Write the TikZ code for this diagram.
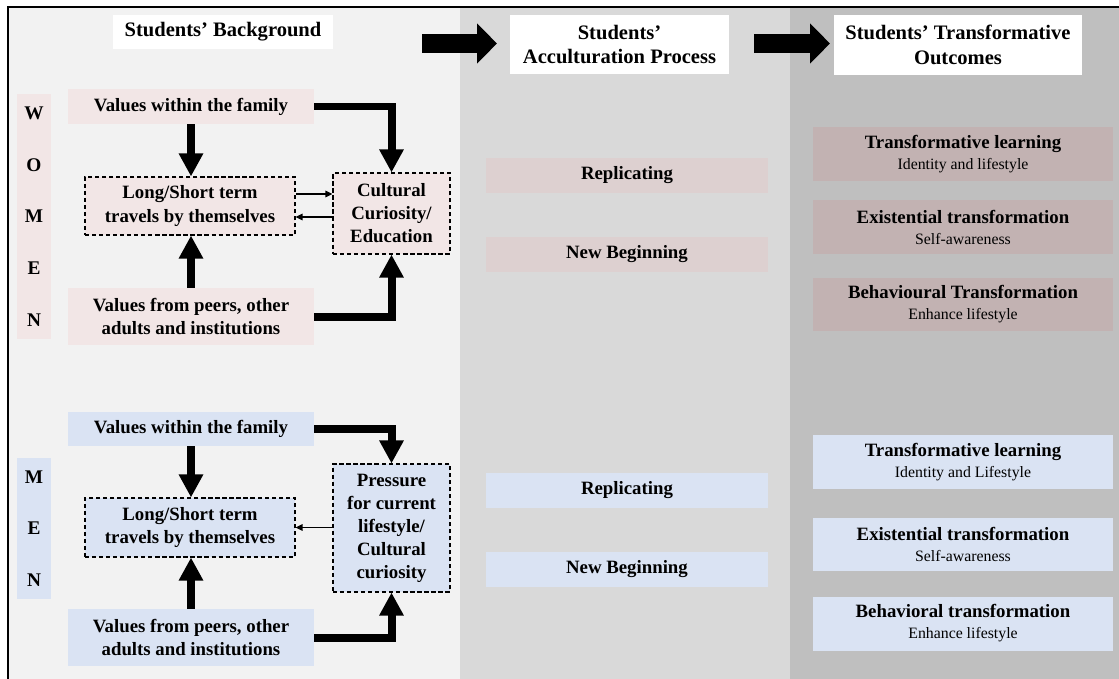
\documentclass[tikz,border=0pt]{standalone}
\usepackage{fontspec}
\setmainfont{Liberation Serif}
\usetikzlibrary{positioning,calc,arrows.meta}

\definecolor{bgleft}{HTML}{F2F2F2}
\definecolor{bgmid}{HTML}{D9D9D9}
\definecolor{bgright}{HTML}{BFBFBF}
\definecolor{womenL}{HTML}{F2E6E6}
\definecolor{womenM}{HTML}{DDD0D0}
\definecolor{womenR}{HTML}{C2B2B2}
\definecolor{menbox}{HTML}{DAE3F3}

\newcommand{\outsub}[1]{{\mdseries\fontsize{9}{12}\selectfont #1}}

\begin{document}
\begin{tikzpicture}[x=0.02cm, y=-0.02cm, line join=miter, >=Triangle,
	box/.style={inner sep=0pt, align=center, font=\bfseries\fontsize{10.7}{13.1}\selectfont},
	headbox/.style={box, fill=white, font=\bfseries\fontsize{11.7}{14.2}\selectfont},
	dashbox/.style={box, draw, dash pattern=on 2.4pt off 1.6pt, line width=0.6pt},
	letterbox/.style={box, minimum width=0.68cm, font=\bfseries\fontsize{11}{29.4}\selectfont},
	srcbox/.style={box, minimum width=4.92cm},
	procbox/.style={box, minimum width=5.64cm, minimum height=0.7cm},
	outbox/.style={box, minimum width=6cm, minimum height=1.08cm, font=\bfseries\fontsize{10.7}{12}\selectfont},
	bigarrow/.style={line width=0.16cm, -{Triangle[width=0.46cm,length=0.46cm]}},
	thinarrow/.style={line width=0.6pt, -{Triangle[width=0.13cm,length=0.14cm]}},
	steparrow/.style={line width=0.4cm, -{Triangle[width=0.78cm,length=0.4cm]}}]
		\useasboundingbox (0,0) rectangle (1119,679);
		% background panels
		\fill [bgleft] (8,7) rectangle (460,679);
		\fill [bgmid] (460,7) rectangle (790,679);
		\fill [bgright] (790,7) rectangle (1119,679);
		\draw [line width=1.1pt] (8,679) -- (8,7) -- (1119,7);
		% headers
		\node[headbox, minimum width=4.4cm, minimum height=0.68cm] (hback) at (223,32) {Students’ Background};
		\node[headbox, minimum width=4.38cm, minimum height=1.18cm] (hproc) at (619.5,44.5) {Students’\\Acculturation Process};
		\node[headbox, minimum width=4.96cm, minimum height=1.2cm] (hout) at (958,45) {Students’ Transformative\\Outcomes};
		\coordinate (a1) at (422,43.5);
		\coordinate (a2) at (497,43.5);
		\coordinate (a3) at (754,43.5);
		\coordinate (a4) at (830,43.5);
		\draw [steparrow] (a1) -- (a2);
		\draw [steparrow] (a3) -- (a4);
		% women
		\node[letterbox, fill=womenL, minimum height=4.9cm] (wlet) at (34,216.5) {W\\O\\M\\E\\N};
		\node[srcbox, fill=womenL, minimum height=0.7cm] (wfam) at (191,106.5) {Values within the family};
		\node[dashbox, fill=womenL, minimum width=4.2cm, minimum height=1.16cm] (wlong) at (190,206) {Long/Short term\\travels by themselves};
		\node[dashbox, fill=womenL, minimum width=2.34cm, minimum height=1.62cm] (wcult) at (391.5,213.5) {Cultural\\Curiosity/\\Education};
		\node[srcbox, fill=womenL, minimum height=1.14cm] (wpeer) at (191,316.5) {Values from peers, other\\adults and institutions};
		\draw [bigarrow] (wfam.south) -- (wfam.south |- wlong.north);
		\draw [bigarrow] (wfam.east) -| (wcult.north);
		\draw [bigarrow] (wpeer.north) -- (wpeer.north |- wlong.south);
		\draw [bigarrow] (wpeer.east) -| (wcult.south);
		\draw [thinarrow] ($(wlong.east)+(0,-12)$) -- ($(wcult.west |- wlong.east)+(0,-12)$);
		\draw [thinarrow] ($(wcult.west |- wlong.east)+(0,11)$) -- ($(wlong.east)+(0,11)$);
		\node[procbox, fill=womenM] (wrep) at (627,175.5) {Replicating};
		\node[procbox, fill=womenM] (wnew) at (627,254.5) {New Beginning};
		\node[outbox, fill=womenR] (wlearn) at (963,154) {Transformative learning\\\outsub{Identity and lifestyle}};
		\node[outbox, fill=womenR] (wexist) at (963,227) {Existential transformation\\\outsub{Self-awareness}};
		\node[outbox, fill=womenR] (wbehav) at (963,304.5) {Behavioural Transformation\\\outsub{Enhance lifestyle}};
		% men
		\node[letterbox, fill=menbox, minimum height=2.82cm] (mlet) at (34,528.5) {M\\E\\N};
		\node[srcbox, fill=menbox, minimum height=0.68cm] (mfam) at (191,429) {Values within the family};
		\node[dashbox, fill=menbox, minimum width=4.2cm, minimum height=1.18cm] (mlong) at (190,527.5) {Long/Short term\\travels by themselves};
		\node[dashbox, fill=menbox, minimum width=2.34cm, minimum height=2.56cm] (mpress) at (391.5,528) {Pressure\\for current\\lifestyle/\\Cultural\\curiosity};
		\node[srcbox, fill=menbox, minimum height=1.14cm] (mpeer) at (191,637.5) {Values from peers, other\\adults and institutions};
		\draw [bigarrow] (mfam.south) -- (mfam.south |- mlong.north);
		\draw [bigarrow] (mfam.east) -| (mpress.north);
		\draw [bigarrow] (mpeer.north) -- (mpeer.north |- mlong.south);
		\draw [bigarrow] (mpeer.east) -| (mpress.south);
		\draw [thinarrow] (mpress.west |- mlong.east) -- (mlong.east);
		\node[procbox, fill=menbox] (mrep) at (627,490.5) {Replicating};
		\node[procbox, fill=menbox] (mnew) at (627,569.5) {New Beginning};
		\node[outbox, fill=menbox] (mlearn) at (963,462) {Transformative learning\\\outsub{Identity and Lifestyle}};
		\node[outbox, fill=menbox] (mexist) at (963,544.5) {Existential transformation\\\outsub{Self-awareness}};
		\node[outbox, fill=menbox] (mbehav) at (963,623.5) {Behavioral transformation\\\outsub{Enhance lifestyle}};
\end{tikzpicture}
\end{document}
